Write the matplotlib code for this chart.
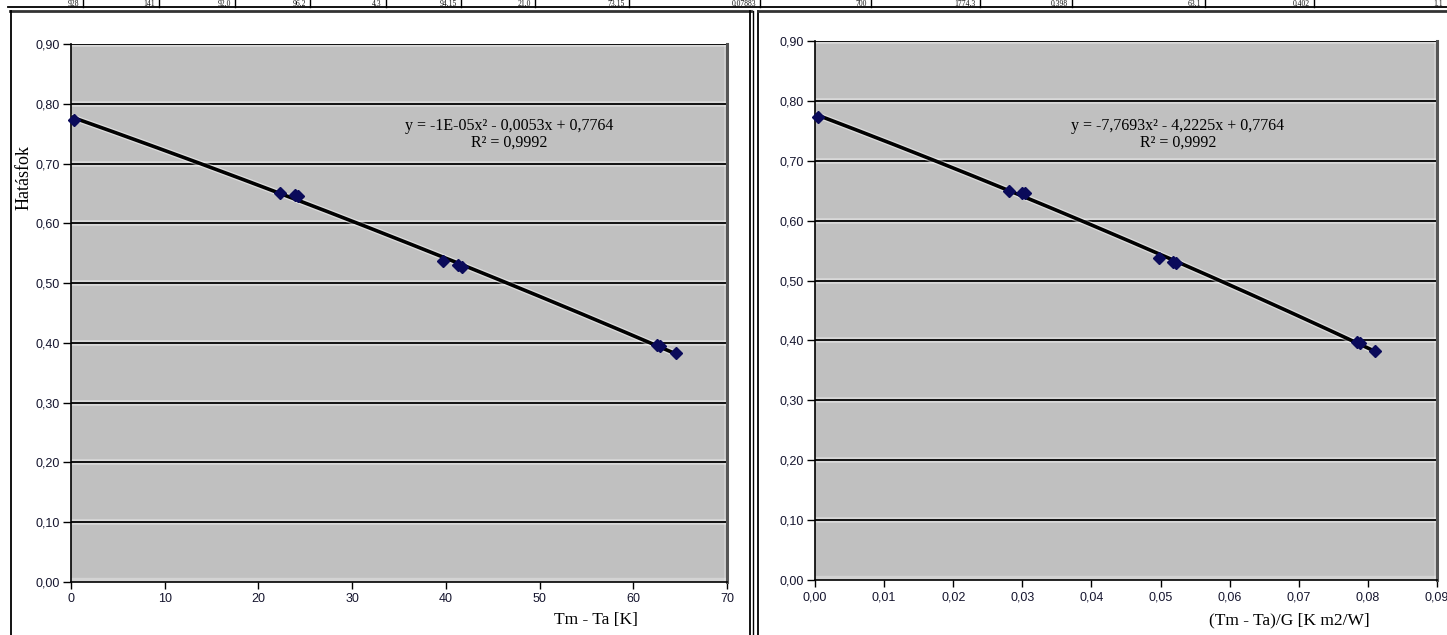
import numpy as np
import matplotlib.pyplot as plt
from matplotlib.lines import Line2D
import matplotlib.patheffects as pe

# data
dt = [0.3, 22.3, 23.9, 24.2, 39.7, 41.3, 41.7, 62.5, 62.9, 64.6]
dt_g = [0.0004, 0.0280, 0.0300, 0.0304, 0.0498, 0.0518, 0.0523,
        0.0784, 0.0789, 0.0811]
eta_left = [0.773, 0.650, 0.647, 0.646, 0.537, 0.530, 0.527, 0.396, 0.394, 0.383]
eta_right = [0.773, 0.650, 0.647, 0.646, 0.538, 0.531, 0.529, 0.397, 0.395, 0.382]

eq_left = ["y = -1E-05x² - 0,0053x + 0,7764", "R² = 0,9992"]
eq_right = ["y = -7,7693x² - 4,2225x + 0,7764", "R² = 0,9992"]

# table row at the top of the page (only its bottom shows)
row_values = ["928", "141", "92,0", "96,2", "4,3", "94,15", "21,0", "73,15",
              "0,07883", "700", "1774,3", "0,398", "63,1", "0,402", "1,1"]
row_edges = [8, 83, 159, 235, 310, 386, 461, 535, 629, 760, 871, 980,
             1072, 1205, 1314, 1447]

W, H = 1447, 635
fig = plt.figure(figsize=(W / 100, H / 100), dpi=100)
fig.patch.set_facecolor('white')


def px(x):
    return x / W


def py(y):
    return 1 - y / H


def fline(x0, y0, x1, y1, lw=1.0, color='black'):
    fig.add_artist(Line2D([px(x0), px(x1)], [py(y0), py(y1)],
                          transform=fig.transFigure, lw=lw, color=color))


# table row
fline(8, 7, W, 7, lw=1.3)
for e in row_edges[1:-1]:
    fline(e, 0, e, 7, lw=1.0)
for v, e in zip(row_values, row_edges[1:]):
    fig.text(px(e - 4), py(6), v, ha='right', va='baseline',
             family='Liberation Serif', fontsize=5.5, color='#111111')

# chart frames
fline(10, 11, 751, 11, lw=2.0, color='#333333')
fline(11, 11, 11, H, lw=1.3)
fline(750, 11, 750, H, lw=1.3)
fline(753, 11, 753, H, lw=1.0)
fline(758, 11, 758, H, lw=1.3)
fline(758, 11, W, 11, lw=2.0, color='#333333')


def make_panel(rect, x, y, xmax, xstep, fmt, eq, eq_xy, xlabel, xlabel_xy):
    ax = fig.add_axes(rect)
    ax.set_facecolor('#c0c0c0')
    ax.set_xlim(0, xmax)
    ax.set_ylim(0, 0.9)
    ax.set_yticks(np.arange(0, 0.91, 0.1))
    ax.set_xticks(np.arange(0, xmax + xstep / 2, xstep))
    ax.set_yticklabels([f"{v:.2f}".replace('.', ',') for v in ax.get_yticks()])
    ax.set_xticklabels([fmt(v) for v in ax.get_xticks()])
    for lab in ax.get_xticklabels() + ax.get_yticklabels():
        lab.set_family('Liberation Sans')
        lab.set_fontsize(9)
        lab.set_color('#15152e')
    ax.tick_params(axis='y', direction='out', length=6, width=1, pad=2)
    ax.tick_params(axis='x', direction='out', length=5, width=1, pad=3)

    # soft white glow + black grid lines
    for v in np.arange(0.1, 0.91, 0.1):
        ax.axhline(v, color='white', lw=4, alpha=0.4, zorder=1)
        ax.axhline(v, color='black', lw=1.3, zorder=2)
    ax.axhline(0, color='white', lw=6, alpha=0.3, zorder=1)
    ax.axvline(xmax, color='white', lw=5, alpha=0.25, zorder=1)

    for s in ['left', 'bottom']:
        ax.spines[s].set_color('black')
        ax.spines[s].set_linewidth(1.2)
    ax.spines['top'].set_visible(False)
    ax.spines['right'].set_color('#555555')
    ax.spines['right'].set_linewidth(2.2)

    # trendline (2nd order fit of the points)
    coef = np.polyfit(x, y, 2)
    xs = np.linspace(0, max(x), 200)
    ax.plot(xs, np.polyval(coef, xs), color='black', lw=2.6, zorder=4,
            solid_capstyle='butt',
            path_effects=[pe.Stroke(linewidth=4.5, foreground='white', alpha=0.45),
                          pe.Normal()])
    ax.plot(x, y, linestyle='none', marker='D', ms=6, color='#0a0a5a',
            mec='#0a0a5a', zorder=5, clip_on=False)

    fig.text(px(eq_xy[0]), py(eq_xy[1]), eq[0], ha='center', va='center',
             family='Liberation Serif', fontsize=11.5, color='black')
    fig.text(px(eq_xy[0]), py(eq_xy[1] + 17), eq[1], ha='center', va='center',
             family='Liberation Serif', fontsize=11.5, color='black')
    fig.text(px(xlabel_xy[0]), py(xlabel_xy[1]), xlabel, ha='center',
             va='center', family='Liberation Serif', fontsize=12.5)
    return ax


make_panel([px(71), py(582), px(727) - px(71), py(44) - py(582)],
           dt, eta_left, 70, 10, lambda v: f"{v:.0f}",
           eq_left, (509, 126), "Tm - Ta [K]", (596, 620))
make_panel([px(815), py(580), px(1437) - px(815), py(41) - py(580)],
           dt_g, eta_right, 0.09, 0.01, lambda v: f"{v:.2f}".replace('.', ','),
           eq_right, (1178, 126), "(Tm - Ta)/G [K m2/W]", (1289, 620))

fig.text(px(24), py(177), "Hatásfok", rotation=90, ha='center', va='center',
         family='Liberation Serif', fontsize=13)

fig.savefig('out.png', dpi=100)
